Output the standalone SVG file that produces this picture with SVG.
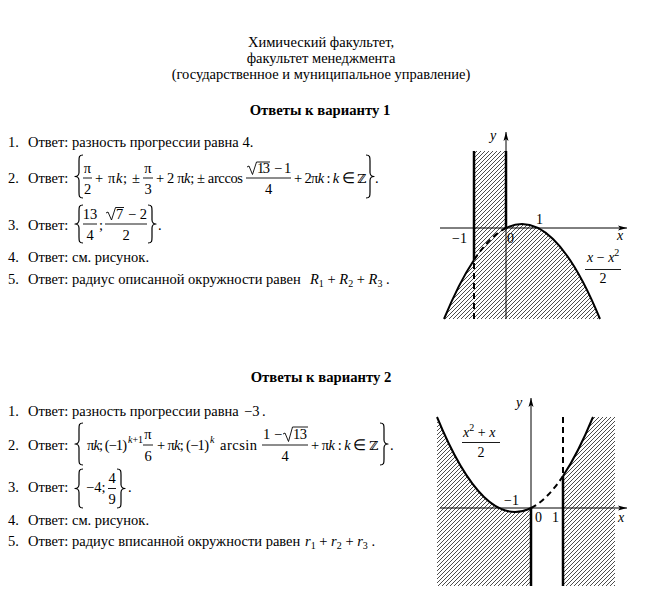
<svg xmlns="http://www.w3.org/2000/svg" width="650" height="597" viewBox="0 0 650 597">
<defs>
<style>
text{font-family:"Liberation Serif","Times New Roman",serif;font-size:14.5px;fill:#000}
.b{font-weight:bold;font-size:14.7px}
.i{font-style:italic}
.m{text-anchor:middle}
.sup{font-size:10px}
.g{font-size:14px}
.z{font-family:"DejaVu Serif",serif;font-size:12.5px}
.bar{stroke:#000;stroke-width:0.9}
.br{fill:none;stroke:#000;stroke-width:1.2;stroke-linejoin:round}
.rad{fill:none;stroke:#000;stroke-width:0.9}
.ax{stroke:#000;stroke-width:1;fill:none}
.thick{stroke:#000;stroke-width:2.5;fill:none}
.crv{stroke:#000;stroke-width:2;fill:none}
.dash{stroke:#000;stroke-width:2;fill:none;stroke-dasharray:6 4}
</style>
<pattern id="hatch" patternUnits="userSpaceOnUse" width="4" height="4">
<path d="M-1,1 L1,-1 M0,4 L4,0 M3,5 L5,3" stroke="#000" stroke-width="0.7"/>
</pattern>
<marker id="arr" markerUnits="userSpaceOnUse" markerWidth="10" markerHeight="6" refX="9" refY="3" orient="auto">
<path d="M0,0.5 L9,3 L0,5.5 L2,3 Z" fill="#000"/>
</marker>
</defs>
<rect width="650" height="597" fill="#fff"/>

<g id="header">
<text x="321" y="47" class="m">Химический факультет,</text>
<text x="321" y="63" class="m">факультет менеджмента</text>
<text x="321" y="79" class="m">(государственное и муниципальное управление)</text>
<text x="320" y="115" class="m b">Ответы к варианту 1</text>
</g>

<g id="variant1">
<text x="8" y="147">1.</text>
<text x="28" y="147">Ответ: разность прогрессии равна 4.</text>

<text x="8" y="183">2.</text>
<text x="28" y="183">Ответ:</text>
<path class="br" d="M83,155 C79,155 79,157 79,161 L79,172.5 C79,175 77,176.5 75,176.5 C77,176.5 79,178 79,180.5 L79,192 C79,196 79,198 83,198"/>
<text x="87.5" y="172.5" class="m">π</text>
<line class="bar" x1="83" y1="178" x2="92" y2="178"/>
<text x="87.5" y="193.5" class="m">2</text>
<text x="95" y="183" textLength="45">+ π<tspan class="i">k</tspan>; ±</text>
<text x="148" y="172.5" class="m">π</text>
<line class="bar" x1="143" y1="178" x2="153" y2="178"/>
<text x="148" y="193.5" class="m">3</text>
<text x="156" y="183" textLength="87">+ 2 π<tspan class="i">k</tspan>; ± arccos</text>
<path class="rad" d="M247,167 L249,166 L252.5,174.5 L256.5,162 L270,162"/>
<text x="257" y="172.5" textLength="13">13</text>
<text x="274" y="172.5">−</text>
<text x="284" y="172.5">1</text>
<line class="bar" x1="246" y1="178" x2="291" y2="178"/>
<text x="268.5" y="193.5" class="m">4</text>
<text x="294" y="183" textLength="72">+ 2π<tspan class="i">k</tspan> : <tspan class="i">k</tspan> ∈ <tspan class="z">ℤ</tspan></text>
<path class="br" d="M366,155 C370,155 370,157 370,161 L370,172.5 C370,175 372,176.5 374,176.5 C372,176.5 370,178 370,180.5 L370,192 C370,196 370,198 366,198"/>
<text x="375" y="183">.</text>

<text x="8" y="230">3.</text>
<text x="28" y="230">Ответ:</text>
<path class="br" d="M83,205 C79,205 79,207 79,211 L79,220 C79,222.5 77,224 75,224 C77,224 79,225.5 79,228 L79,237 C79,241 79,243 83,243"/>
<text x="90" y="218.5" class="m">13</text>
<line class="bar" x1="83" y1="224" x2="97" y2="224"/>
<text x="90" y="239.5" class="m">4</text>
<text x="99" y="230">;</text>
<path class="rad" d="M106,213 L108,212 L111.5,220 L115.5,207.5 L124,207.5"/>
<text x="116" y="218.5">7</text>
<text x="128" y="218.5">− 2</text>
<line class="bar" x1="105" y1="224" x2="147" y2="224"/>
<text x="126" y="239.5" class="m">2</text>
<path class="br" d="M148,205 C152,205 152,207 152,211 L152,220 C152,222.5 154,224 156,224 C154,224 152,225.5 152,228 L152,237 C152,241 152,243 148,243"/>
<text x="158" y="230">.</text>

<text x="8" y="262">4.</text>
<text x="28" y="262">Ответ: см. рисунок.</text>

<text x="8" y="284">5.</text>
<text x="28" y="284">Ответ: радиус описанной окружности равен</text>
<text x="310" y="284"><tspan class="i">R</tspan><tspan class="sup" dy="3">1</tspan><tspan dy="-3"> + </tspan><tspan class="i">R</tspan><tspan class="sup" dy="3">2</tspan><tspan dy="-3"> + </tspan><tspan class="i">R</tspan><tspan class="sup" dy="3">3</tspan><tspan dy="-3"> .</tspan></text>
</g>

<g id="graph1">
<path d="M444,319 Q459,282.5 474,260 L474,151 L506,151 L506,228 Q553,204.5 600,319 Z" fill="url(#hatch)"/>
<line class="ax" x1="440" y1="228" x2="627" y2="228" marker-end="url(#arr)"/>
<line class="ax" x1="506" y1="319" x2="506" y2="132" marker-end="url(#arr)"/>
<line class="thick" x1="474" y1="151" x2="474" y2="260"/>
<line class="dash" x1="474" y1="263" x2="474" y2="319"/>
<line class="thick" x1="506" y1="151" x2="506" y2="228"/>
<path class="crv" d="M444,319 Q459,282.5 474,260"/>
<path class="dash" d="M474,260 Q490,236 506,228"/>
<path class="crv" d="M506,228 Q553,204.5 600,319"/>
<text x="490" y="140" class="g i">y</text>
<text x="452" y="243" class="g">−1</text>
<text x="507" y="243" class="g">0</text>
<text x="536" y="224" class="g">1</text>
<text x="617" y="240" class="g i">x</text>
<text x="587" y="262" class="g"><tspan class="i">x</tspan> − <tspan class="i">x</tspan><tspan class="sup" dy="-6">2</tspan></text>
<line class="bar" x1="585" y1="269.5" x2="621" y2="269.5"/>
<text x="603" y="283" class="g m">2</text>
</g>

<g id="header2">
<text x="321" y="382" class="m b">Ответы к варианту 2</text>
</g>

<g id="variant2">
<text x="8" y="416">1.</text>
<text x="28" y="416">Ответ: разность прогрессии равна</text>
<text x="244" y="416">−3</text>
<text x="262" y="416">.</text>

<text x="8" y="450">2.</text>
<text x="28" y="450">Ответ:</text>
<path class="br" d="M83,423 C79,423 79,425 79,429 L79,440 C79,442.5 77,444 75,444 C77,444 79,445.5 79,448 L79,459 C79,463 79,465 83,465"/>
<text x="87" y="450" textLength="40">π<tspan class="i">k</tspan>; (−1)</text>
<text x="128" y="443" class="sup"><tspan class="i">k</tspan>+1</text>
<text x="148" y="439" class="m">π</text>
<line class="bar" x1="143" y1="445" x2="153" y2="445"/>
<text x="148" y="460.5" class="m">6</text>
<text x="157" y="450" textLength="52">+ π<tspan class="i">k</tspan>; (−1)</text>
<text x="210" y="443" class="sup i">k</text>
<text x="220" y="450" textLength="37">arcsin</text>
<text x="263" y="439">1 −</text>
<path class="rad" d="M283,434 L285,433 L288.5,441.5 L292.5,427 L308,427"/>
<text x="293" y="439" textLength="14">13</text>
<line class="bar" x1="262" y1="445" x2="308" y2="445"/>
<text x="285" y="460.5" class="m">4</text>
<text x="311" y="450" textLength="67">+ π<tspan class="i">k</tspan> : <tspan class="i">k</tspan> ∈ <tspan class="z">ℤ</tspan></text>
<path class="br" d="M380,423 C384,423 384,425 384,429 L384,440 C384,442.5 386,444 388,444 C386,444 384,445.5 384,448 L384,459 C384,463 384,465 380,465"/>
<text x="390" y="450">.</text>

<text x="8" y="492">3.</text>
<text x="28" y="492">Ответ:</text>
<path class="br" d="M83,469 C79,469 79,471 79,475 L79,484.5 C79,487 77,488.5 75,488.5 C77,488.5 79,490 79,492.5 L79,502 C79,506 79,508 83,508"/>
<text x="86" y="492">−4;</text>
<text x="112" y="483" class="m">4</text>
<line class="bar" x1="108" y1="488.5" x2="116" y2="488.5"/>
<text x="112" y="504" class="m">9</text>
<path class="br" d="M117,469 C121,469 121,471 121,475 L121,484.5 C121,487 123,488.5 125,488.5 C123,488.5 121,490 121,492.5 L121,502 C121,506 121,508 117,508"/>
<text x="128" y="492">.</text>

<text x="8" y="525">4.</text>
<text x="28" y="525">Ответ: см. рисунок.</text>

<text x="8" y="546">5.</text>
<text x="28" y="546">Ответ: радиус вписанной окружности равен</text>
<text x="305" y="546"><tspan class="i">r</tspan><tspan class="sup" dy="3">1</tspan><tspan dy="-3"> + </tspan><tspan class="i">r</tspan><tspan class="sup" dy="3">2</tspan><tspan dy="-3"> + </tspan><tspan class="i">r</tspan><tspan class="sup" dy="3">3</tspan><tspan dy="-3"> .</tspan></text>
</g>

<g id="graph2">
<path d="M437,417 Q484,531.5 531,508 L531,586 L437,586 Z" fill="url(#hatch)"/>
<path d="M563,476 Q578,453.5 593,417 L615,417 L615,586 L563,586 Z" fill="url(#hatch)"/>
<line class="ax" x1="440" y1="508" x2="627" y2="508" marker-end="url(#arr)"/>
<line class="ax" x1="531" y1="586" x2="531" y2="398" marker-end="url(#arr)"/>
<line class="thick" x1="531" y1="508" x2="531" y2="586"/>
<line class="thick" x1="563" y1="476" x2="563" y2="586"/>
<line class="dash" x1="563" y1="417" x2="563" y2="474"/>
<path class="crv" d="M437,417 Q484,531.5 531,508"/>
<path class="dash" d="M531,508 Q547,500 563,476"/>
<path class="crv" d="M563,476 Q578,453.5 593,417"/>
<text x="516" y="407" class="g i">y</text>
<text x="463" y="437" class="g"><tspan class="i">x</tspan><tspan class="sup" dy="-6">2</tspan><tspan dy="6"> + </tspan><tspan class="i">x</tspan></text>
<line class="bar" x1="462" y1="442.5" x2="500" y2="442.5"/>
<text x="481" y="457" class="g m">2</text>
<text x="504" y="505" class="g">−1</text>
<text x="535" y="522" class="g">0</text>
<text x="552" y="522" class="g">1</text>
<text x="618" y="522" class="g i">x</text>
</g>
</svg>
